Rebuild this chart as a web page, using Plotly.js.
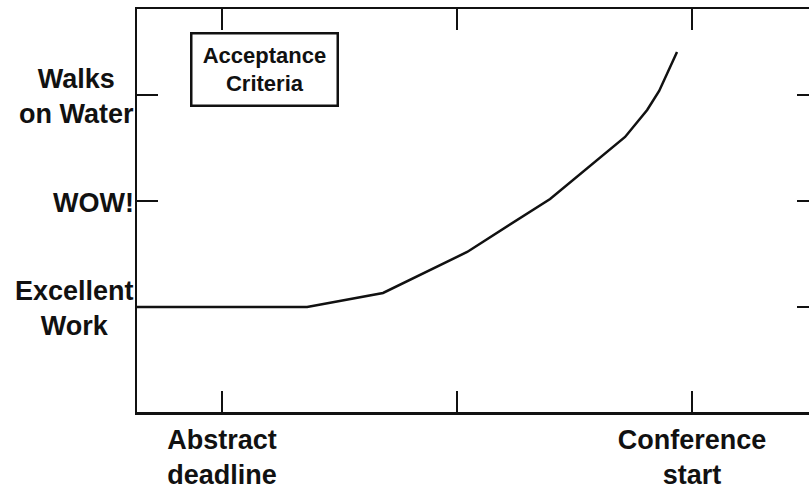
<!DOCTYPE html>
<html>
<head>
<meta charset="utf-8">
<script src="https://cdn.plot.ly/plotly-3.0.1.min.js"></script>
<style>
  html, body { margin: 0; padding: 0; overflow: hidden; background: #ffffff; }
  #chart { width: 820px; height: 492px; }
</style>
</head>
<body>
<div id="chart"></div>
<script>
// Progress of the work (x: time, y: quality level)
const timeValues = [0.638, 1.362, 1.685, 2.043, 2.396, 2.715, 2.809, 2.860, 2.936];
const qualityValues = [1.0, 1.0, 1.132, 1.519, 2.019, 2.604, 2.858, 3.038, 3.406];

// Axis ticks
const xTickValues = [1, 2, 3];
const xTickLabels = ["Abstract<br>deadline", "", "Conference<br>start"];
const yTickValues = [1, 2, 3];
const yTickLabels = ["Excellent<br>Work", "WOW!", "Walks<br>on Water"];

const boxLabel = "Acceptance<br>Criteria";

const fontFamily = "Liberation Sans, Arial, Helvetica, sans-serif";

const trace = {
  x: timeValues,
  y: qualityValues,
  type: "scatter",
  mode: "lines",
  line: { color: "#111111", width: 2.5 },
  hoverinfo: "skip"
};

const yLabelAnnotations = yTickValues.map((v, i) => ({
  xref: "paper", yref: "y",
  x: 0, y: v,
  xanchor: "right", yanchor: "middle",
  xshift: -1,
  yshift: -2,
  text: yTickLabels[i],
  showarrow: false,
  align: "center",
  font: { family: fontFamily, size: 27, color: "#111111", weight: "bold" }
}));

const layout = {
  width: 820,
  height: 492,
  margin: { l: 137, r: 2, t: 9, b: 80, pad: 0 },
  paper_bgcolor: "#ffffff",
  plot_bgcolor: "#ffffff",
  showlegend: false,
  xaxis: {
    range: [0.638, 3.536],
    tickmode: "array",
    tickvals: xTickValues,
    ticktext: xTickLabels,
    ticks: "inside",
    ticklen: 21,
    tickwidth: 2.5,
    tickcolor: "#111111",
    ticklabelstandoff: 2,
    showline: true,
    linecolor: "#111111",
    linewidth: 2.5,
    mirror: "ticks",
    showgrid: false,
    zeroline: false,
    tickfont: { family: fontFamily, size: 27, color: "#111111", weight: "bold" }
  },
  yaxis: {
    range: [0.009, 3.811],
    tickmode: "array",
    tickvals: yTickValues,
    ticktext: yTickValues.map(() => ""),
    ticks: "inside",
    ticklen: 21,
    tickwidth: 2.5,
    tickcolor: "#111111",
    showline: true,
    linecolor: "#111111",
    linewidth: 2.5,
    mirror: "ticks",
    showgrid: false,
    zeroline: false
  },
  annotations: yLabelAnnotations.concat([{
    xref: "paper", yref: "paper",
    x: 0.0778, y: 0.943,
    xanchor: "left", yanchor: "top",
    text: boxLabel,
    showarrow: false,
    align: "center",
    width: 140,
    height: 66,
    borderpad: 2,
    bordercolor: "#111111",
    borderwidth: 2.5,
    bgcolor: "#ffffff",
    font: { family: fontFamily, size: 22, color: "#111111", weight: "bold" }
  }])
};

Plotly.newPlot("chart", [trace], layout, { displayModeBar: false, staticPlot: true });
</script>
</body>
</html>
